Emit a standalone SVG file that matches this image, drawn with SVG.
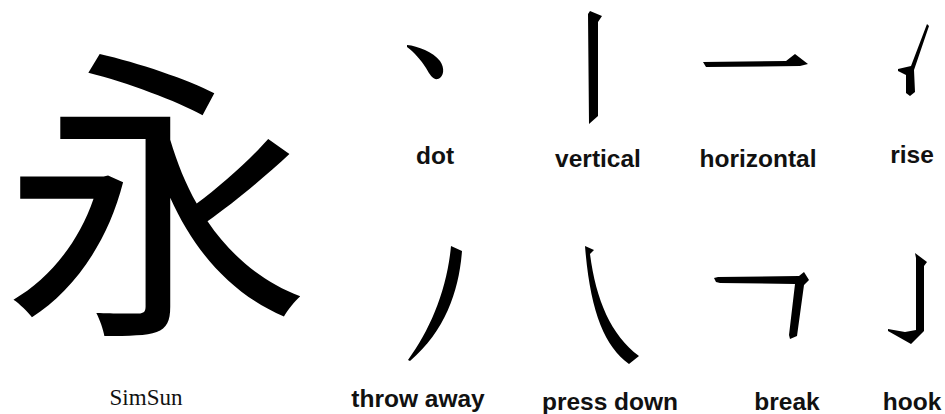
<svg xmlns="http://www.w3.org/2000/svg" width="945" height="414" viewBox="0 0 945 414">
  <style>
    .lbl { font-family: "Liberation Sans", Arial, sans-serif; font-weight: bold; font-size: 24.5px; fill: #111; text-anchor: middle; }
    .ser { font-family: "Liberation Serif", "Times New Roman", serif; font-size: 23px; fill: #111; text-anchor: middle; }
    .big { font-family: "Noto Sans CJK SC", "Noto Sans CJK JP", sans-serif; font-size: 308px; fill: #000; text-anchor: middle; }
    .stroke { fill: #000; stroke: none; }
  </style>
  <rect width="945" height="414" fill="#fff"/>

  <g id="yong">
    <text class="big" x="157" y="312">永</text>
    <text class="ser" x="146" y="405">SimSun</text>
  </g>

  <g id="dot">
    <path class="stroke" d="M407,45 C418,46 433,52 440,61 C445,68 444,77 438,79 C433,80 430,75 426,68 C421,60 414,52 407,47 Z"/>
    <text class="lbl" x="435" y="164">dot</text>
  </g>

  <g id="vertical">
    <path class="stroke" d="M590,11 L602,16 L598,22 L598,116 L589,124 L588,14 Z"/>
    <text class="lbl" x="598" y="167">vertical</text>
  </g>

  <g id="horizontal">
    <path class="stroke" d="M703,62 L786,61 L795,54 L808,64 L800,66 L706,67 Z"/>
    <text class="lbl" x="758" y="167">horizontal</text>
  </g>

  <g id="rise">
    <path class="stroke" d="M927,24 L929,26 L914,70 L915,92 L910,96 L906,93 L906,75 L898,71 L898,69 L911,66 Z"/>
    <text class="lbl" x="912" y="163">rise</text>
  </g>

  <g id="throw-away">
    <path class="stroke" d="M451,246 L462,251 C459,290 446,330 410,361 L408,360 C430,330 447,290 451,246 Z"/>
    <text class="lbl" x="418" y="407">throw away</text>
  </g>

  <g id="press-down">
    <path class="stroke" d="M585,246 L594,250 L590,254 C596,300 611,335 639,356 L629,364 C604,346 590,310 585,246 Z"/>
    <text class="lbl" x="610" y="410">press down</text>
  </g>

  <g id="break">
    <path class="stroke" d="M714,278 L718,277 L799,276 L804,272 L809,280 L804,285 L797,336 L790,339 L789,335 L795,284 L720,283 L716,282 Z"/>
    <text class="lbl" x="787" y="410">break</text>
  </g>

  <g id="hook">
    <path class="stroke" d="M915,253 L927,262 L924,266 L924,331 L911,344 L888,331 L888,329 L905,332 L916,330 L916,258 Z"/>
    <text class="lbl" x="912" y="410">hook</text>
  </g>
</svg>
